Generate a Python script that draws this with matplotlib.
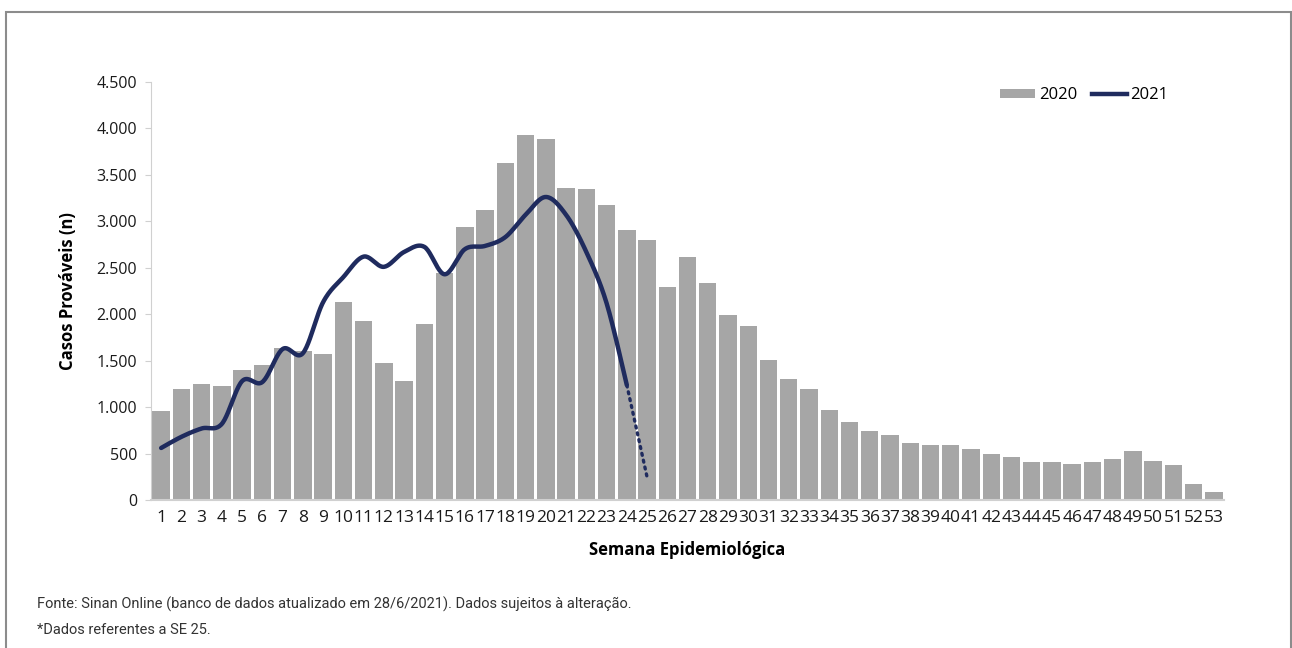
import numpy as np
import matplotlib.pyplot as plt
from matplotlib.patches import Rectangle, Patch
from matplotlib.lines import Line2D
from matplotlib.ticker import FuncFormatter

# semanas epidemiologicas
semanas = list(range(1, 54))

# casos provaveis 2020 (SE 1-53)
casos_2020 = [960, 1200, 1250, 1230, 1400, 1450, 1640, 1600, 1570, 2130,
              1925, 1470, 1280, 1890, 2440, 2935, 3120, 3625, 3930, 3885,
              3360, 3345, 3175, 2905, 2800, 2295, 2615, 2335, 1990, 1870,
              1505, 1300, 1200, 965, 845, 740, 695, 610, 590, 590,
              545, 490, 460, 410, 410, 390, 405, 440, 525, 425,
              375, 170, 85]

# casos provaveis 2021 (SE 1-25, SE 25 parcial)
casos_2021 = [560, 680, 770, 820, 1280, 1270, 1625, 1580, 2130, 2400,
              2620, 2510, 2670, 2725, 2430, 2700, 2735, 2830, 3070, 3262,
              3070, 2670, 2120, 1238, 248]

cor_barra = "#a6a6a6"
cor_linha = "#1f2b5e"


def suaviza(x, y, n=24):
    # curva suavizada tipo planilha (bezier pelos pontos)
    x = np.asarray(x, float)
    y = np.asarray(y, float)
    px = np.concatenate([[x[0]], x, [x[-1]]])
    py = np.concatenate([[y[0]], y, [y[-1]]])
    xs, ys = [], []
    t = np.linspace(0, 1, n)
    for i in range(1, len(px) - 2):
        p0 = np.array([px[i], py[i]])
        p3 = np.array([px[i + 1], py[i + 1]])
        c1 = p0 + (np.array([px[i + 1], py[i + 1]]) - np.array([px[i - 1], py[i - 1]])) / 6
        c2 = p3 - (np.array([px[i + 2], py[i + 2]]) - np.array([px[i], py[i]])) / 6
        b = ((1 - t) ** 3)[:, None] * p0 + (3 * (1 - t) ** 2 * t)[:, None] * c1 \
            + (3 * (1 - t) * t ** 2)[:, None] * c2 + (t ** 3)[:, None] * p3
        xs.extend(b[:, 0])
        ys.extend(b[:, 1])
    return np.array(xs), np.array(ys)


plt.rcParams["font.family"] = ["Open Sans", "DejaVu Sans"]

fig = plt.figure(figsize=(12.92, 6.48), dpi=100)
ax = fig.add_axes([0.1169, 0.2284, 0.8305, 0.6451])

ax.bar(semanas, casos_2020, width=0.86, color=cor_barra, zorder=2)

sx, sy = suaviza(semanas[:24], casos_2021[:24])
ax.plot(sx, sy, color=cor_linha, lw=3.2, solid_capstyle="round", zorder=3)
ax.plot(semanas[23:25], casos_2021[23:25], color=cor_linha, lw=2.4,
        linestyle=(0, (0.6, 1.5)), dash_capstyle="round", zorder=3)

ax.set_xlim(0.5, 53.5)
ax.set_ylim(0, 4500)
ax.set_yticks(range(0, 4501, 500))
ax.yaxis.set_major_formatter(FuncFormatter(lambda v, p: f"{int(v):,}".replace(",", ".")))
ax.set_xticks(semanas)
ax.set_xticklabels([str(s) for s in semanas])

for s in ["top", "right"]:
    ax.spines[s].set_visible(False)
ax.spines["left"].set_color("#d0d0d0")
ax.spines["bottom"].set_color("#d0d0d0")
ax.spines["bottom"].set_linewidth(1.5)
ax.tick_params(axis="y", length=4, color="#d0d0d0", labelsize=11.5, pad=6, labelcolor="#1a1a1a")
ax.tick_params(axis="x", length=0, labelsize=12.5, pad=7, labelcolor="#1a1a1a")

ax.set_ylabel("Casos Prováveis (n)", fontsize=12, fontweight="bold", labelpad=14)
ax.set_xlabel("Semana Epidemiológica", fontsize=12, fontweight="bold", labelpad=11)

handles = [Patch(facecolor=cor_barra, edgecolor="none"),
           Line2D([], [], color=cor_linha, lw=3.2)]
ax.legend(handles, ["2020", "2021"], ncol=2, frameon=False, fontsize=12,
          loc="center right", bbox_to_anchor=(0.962, 0.968),
          handlelength=2.1, handleheight=0.45, handletextpad=0.2, columnspacing=0.9)

fig.text(0.0286, 0.068, "Fonte: Sinan Online (banco de dados atualizado em 28/6/2021). Dados sujeitos à alteração.",
         fontsize=10.5, color="#333333", va="center",
         family=["Roboto", "DejaVu Sans"])
fig.text(0.0286, 0.028, "*Dados referentes a SE 25.",
         fontsize=10.5, color="#333333", va="center",
         family=["Roboto", "DejaVu Sans"])

# moldura
fig.patches.append(Rectangle((6 / 1292, -0.1), 1285 / 1292, 1.1 - 12 / 648,
                             transform=fig.transFigure, fill=False,
                             edgecolor="#8c8c8c", lw=1.5, clip_on=False))

fig.savefig("out.png", dpi=100)
